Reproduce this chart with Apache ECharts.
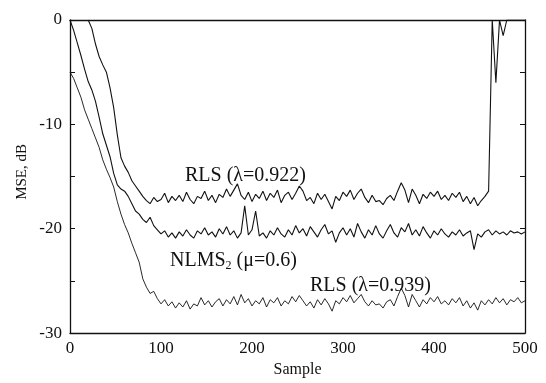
<!DOCTYPE html>
<html><head><meta charset="utf-8">
<script src="https://cdn.jsdelivr.net/npm/echarts@6/dist/echarts.min.js"></script>
<style>html,body{margin:0;padding:0;background:#fff}#c{width:546px;height:383px}</style>
</head><body><div id="c"></div>
<script>
const sampleStep = 4;
const xTicks = [0, 100, 200, 300, 400, 500];
const yTicks = [0, -10, -20, -30];

const rls922 = [null, null, null, null, null, 0.0, -0.8, -2.3, -3.5, -4.3,
 -5.0, -6.5, -8.4, -11.0, -13.2, -14.0, -14.6, -15.4, -15.9, -16.4,
 -16.9, -17.3, -17.6, -17.0, -17.4, -17.2,
 -16.6, -17.5, -16.9, -17.3, -16.8, -17.4, -16.5, -17.2, -17.6, -16.9,
 -17.1, -16.4, -17.3, -16.8, -17.5, -16.7, -17.0, -16.2, -16.9, -16.3,
 -15.7, -16.8, -17.2, -16.5, -17.4, -16.7, -17.1, -16.4, -17.3, -16.6,
 -17.0, -16.3, -17.5, -16.8, -16.5, -17.2, -16.6, -15.9, -16.4, -17.3,
 -17.0, -17.6, -16.6, -17.2, -16.7, -17.4, -18.1, -16.9, -17.3, -16.5,
 -16.9, -16.3, -17.2, -16.6, -16.2, -17.0, -17.5, -16.8, -17.4, -17.3,
 -17.7, -17.1, -16.8, -17.3, -16.4, -15.6, -16.3, -17.5, -16.2, -16.8,
 -17.6, -16.7, -17.1, -16.5, -16.9, -16.4, -17.2, -16.8, -17.3, -16.6,
 -17.0, -16.5, -17.4, -16.9, -17.6, -17.0, -17.8, -17.3, -16.9, -16.4,
 0, -6.0, 0, -1.5, 0, 0, 0, 0, 0, 0];

const nlms = [0, -1.0, -2.2, -3.4, -4.7, -5.9, -6.7, -7.8, -9.3, -10.9,
 -12.0, -13.1, -14.7, -15.8, -16.2, -16.4, -16.9, -17.6, -18.3, -18.6,
 -19.1, -19.4, -18.9, -19.7, -20.1, -20.5,
 -20.2, -20.8, -20.4, -20.9, -20.3, -20.7, -20.1, -20.6, -20.9, -20.2,
 -20.5, -19.9, -20.6, -20.3, -20.8, -20.0, -20.5, -19.8, -20.6, -20.2,
 -20.9, -20.4, -17.8, -20.6, -20.1, -18.3, -20.7, -20.4, -20.9, -20.2,
 -20.6, -19.9, -20.5, -20.8, -20.1, -20.6, -19.7, -20.4, -20.0, -20.7,
 -19.8, -20.3, -20.8, -20.1, -19.6, -20.5, -20.2, -21.3, -20.4, -19.9,
 -20.6, -20.0, -20.8, -19.5, -20.3, -20.9, -20.1, -20.6, -19.7, -20.5,
 -20.9, -20.2, -19.6, -20.4, -20.8, -19.9, -20.3, -19.5, -20.6, -20.1,
 -20.7, -19.8, -20.4, -20.9, -20.2, -20.6, -20.0, -20.5, -20.8, -20.3,
 -20.6, -20.1, -20.7, -20.4, -20.2, -22.0, -20.5, -20.8, -20.3, -20.1,
 -20.6, -20.2, -20.5, -20.3, -20.6, -20.2, -20.4, -20.3, -20.5, -20.3];

const rls939 = [-5.0, -5.6, -6.5, -7.4, -8.6, -9.5, -10.4, -11.3, -12.2, -13.4,
 -14.3, -15.1, -16.0, -17.4, -18.6, -19.6, -20.4, -21.4, -22.3, -23.2,
 -24.8, -25.6, -26.2, -26.0, -26.7, -27.2,
 -26.8, -27.4, -27.0, -27.6, -27.1, -27.5, -26.9, -27.7, -27.2, -27.4,
 -26.6, -27.3, -26.9, -27.5, -27.0, -26.7, -27.4, -26.8, -27.2, -26.5,
 -27.3, -26.3, -27.1, -26.7, -27.4, -26.9, -27.2, -26.6, -27.5, -26.8,
 -27.1, -26.6, -27.4, -26.9, -27.2, -26.5, -27.0, -26.4, -26.9, -27.4,
 -27.0, -27.6, -26.8, -27.3, -26.7, -27.2, -27.9, -26.9, -27.2, -26.6,
 -27.0, -26.4, -27.1, -26.7, -26.3, -27.0, -27.4, -26.9, -27.3, -27.2,
 -27.6, -27.0, -26.8, -27.4, -26.5, -25.7, -26.4, -27.5, -26.3, -26.9,
 -27.5, -26.8, -27.2, -26.6, -27.0, -26.5, -27.2, -26.9, -27.3, -26.7,
 -27.1, -26.6, -27.4, -26.9, -27.6, -27.1, -27.8, -26.9, -27.3, -26.8,
 -27.2, -26.6, -27.1, -26.7, -27.3, -26.8, -27.0, -26.6, -27.1, -26.9];

const seriesNames = ['RLS (λ=0.922)', 'NLMS2 (μ=0.6)', 'RLS (λ=0.939)'];
const seriesValues = [rls922, nlms, rls939];

const toPairs = arr => arr.map((v, i) => [i * sampleStep, v]);

const FONT = '"Liberation Serif", "DejaVu Serif", serif';
const chart = echarts.init(document.getElementById('c'), null, {renderer: 'canvas'});

const axisLine = {show: true, onZero: false, lineStyle: {color: '#111', width: 1.3}};

chart.setOption({
  animation: false,
  backgroundColor: '#fff',
  grid: {left: 70, right: 21, top: 20, bottom: 43, containLabel: false},
  xAxis: [{
    type: 'value', min: 0, max: 500, interval: 100, position: 'bottom',
    axisLine: axisLine, axisTick: {show: false}, splitLine: {show: false},
    axisLabel: {color: '#111', fontFamily: FONT, fontSize: 17, margin: 7,
      formatter: v => xTicks.indexOf(v) >= 0 ? String(v) : ''},
    name: 'Sample', nameLocation: 'middle', nameGap: 27,
    nameTextStyle: {color: '#111', fontFamily: FONT, fontSize: 16}
  }, {
    type: 'value', min: 0, max: 500, position: 'top',
    axisLine: axisLine, axisTick: {show: false}, axisLabel: {show: false}, splitLine: {show: false}
  }],
  yAxis: [{
    type: 'value', min: -30, max: 0, interval: 5, position: 'left',
    axisLine: axisLine,
    axisTick: {show: true, inside: true, length: 5, lineStyle: {color: '#111'}},
    splitLine: {show: false},
    axisLabel: {color: '#111', fontFamily: FONT, fontSize: 17, margin: 8,
      formatter: v => yTicks.indexOf(v) >= 0 ? (v < 0 ? '-' + Math.abs(v) : String(v)) : ''}
  }, {
    type: 'value', min: -30, max: 0, interval: 5, position: 'right',
    axisLine: axisLine,
    axisTick: {show: true, inside: true, length: 5, lineStyle: {color: '#111'}},
    axisLabel: {show: false}, splitLine: {show: false}
  }],
  series: seriesValues.map((vals, k) => ({
    name: seriesNames[k], type: 'line', data: toPairs(vals),
    xAxisIndex: 0, yAxisIndex: 0, symbol: 'none', clip: true, connectNulls: false,
    lineStyle: {color: '#111', width: k === 2 ? 0.9 : 1.1}
  })),
  graphic: [
    {type: 'text', left: 185, top: 166, style: {text: 'RLS (λ=0.922)', font: '20px ' + FONT, fill: '#111'}},
    {type: 'text', left: 170, top: 251, style: {
      rich: {a: {fontFamily: FONT, fontSize: 20, fill: '#111'}, s: {fontFamily: FONT, fontSize: 12, fill: '#111', padding: [9, 0, 0, 0]}},
      text: '{a|NLMS}{s|2}{a| (μ=0.6)}'}},
    {type: 'text', left: 310, top: 276, style: {text: 'RLS (λ=0.939)', font: '20px ' + FONT, fill: '#111'}},
    {type: 'text', left: 15, top: 144, rotation: Math.PI / 2,
      style: {text: 'MSE, dB', font: '15px ' + FONT, fill: '#111'}}
  ]
});
</script></body></html>
